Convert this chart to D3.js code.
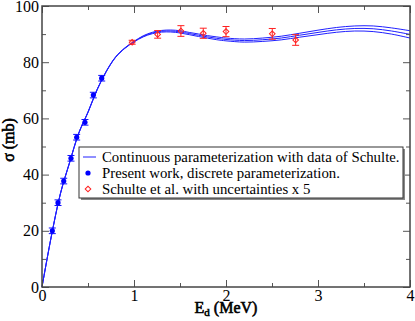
<!DOCTYPE html>
<html>
<head>
<meta charset="utf-8">
<title>Cross section</title>
<style>
body { margin: 0; background: #fff; }
.axis path { display: none; }
.axis line { stroke: #555; }
</style>
<script src="https://cdn.jsdelivr.net/npm/d3@7"></script>
</head>
<body>
<script>
// present work, discrete parameterization
var presentE = [0.112, 0.174, 0.236, 0.315, 0.377, 0.467, 0.558, 0.649];
var presentSigma = [20.0, 30.0, 37.7, 45.8, 53.3, 58.6, 68.3, 74.3];
var presentErr = [1, 1, 1, 1, 1, 1, 1, 1];

// Schulte et al. (uncertainties x 5)
var schulteE = [0.98, 1.257, 1.51, 1.753, 2.0, 2.503, 2.757];
var schulteSigma = [87.1, 89.9, 91.1, 90.3, 90.9, 90.1, 87.9];
var schulteErr = [0.7, 1.35, 1.9, 1.8, 1.8, 1.9, 1.9];

// continuous parameterization (central + band)
var fitE = [0, 0.1, 0.2, 0.3, 0.4, 0.5, 0.6, 0.7, 0.8, 0.9, 1.0, 1.1, 1.2, 1.3, 1.4, 1.5,
            1.6, 1.7, 1.8, 1.9, 2.0, 2.2, 2.4, 2.6, 2.8, 3.0, 3.2, 3.4, 3.6, 3.8, 4.0];
var fitMid = [0, 17.8, 33.2, 44.3, 54.8, 62.2, 70.3, 76.8, 81.8, 85.0, 87.3, 89.2, 90.4, 91.0, 91.1, 90.8,
              90.2, 89.6, 89.0, 88.5, 88.1, 87.7, 88.0, 88.6, 89.6, 90.6, 91.5, 92.0, 91.9, 91.1, 89.9];
var fitLow = [0, 17.7, 33.1, 44.2, 54.7, 62.1, 70.2, 76.7, 81.7, 84.9, 87.2, 89.0, 90.15, 90.7, 90.75, 90.4,
              89.8, 89.15, 88.55, 88.0, 87.6, 87.15, 87.4, 87.95, 88.9, 89.8, 90.65, 91.1, 90.9, 90.0, 88.6];
var fitHigh = [0, 17.9, 33.3, 44.4, 54.9, 62.3, 70.4, 76.9, 81.9, 85.1, 87.4, 89.4, 90.65, 91.3, 91.45, 91.2,
               90.6, 90.05, 89.45, 89.0, 88.6, 88.25, 88.6, 89.25, 90.3, 91.4, 92.35, 92.9, 92.9, 92.2, 91.2];

var xMajor = [0, 1, 2, 3, 4];
var xMinor = [0.5, 1.5, 2.5, 3.5];
var yMajor = [0, 20, 40, 60, 80, 100];
var yMinor = [10, 30, 50, 70, 90];

var legendLabels = [
    "Continuous parameterization with data of Schulte.",
    "Present work, discrete parameterization.",
    "Schulte et al. with uncertainties x 5"
];

var serif = "'Liberation Serif'";

var width = 415, height = 321;
var margin = {top: 6, right: 5, bottom: 34, left: 42};
var w = width - margin.left - margin.right,
    h = height - margin.top - margin.bottom;

var svg = d3.select("body").append("svg")
    .attr("width", width)
    .attr("height", height)
    .style("display", "block");

var g = svg.append("g")
    .attr("transform", "translate(" + margin.left + "," + margin.top + ")");

var x = d3.scaleLinear().domain([0, 4]).range([0, w]);
var y = d3.scaleLinear().domain([0, 100]).range([h, 0]);

// curves
var line = d3.line()
    .x(function(d) { return x(d[0]); })
    .y(function(d) { return y(d[1]); })
    .curve(d3.curveCatmullRom);

[fitLow, fitMid, fitHigh].forEach(function(s) {
    g.append("path")
        .datum(fitE.map(function(e, i) { return [e, s[i]]; }))
        .attr("fill", "none")
        .attr("stroke", "#2020ff")
        .attr("stroke-width", 1)
        .attr("d", line);
});

// error bars
function errorBars(es, vs, errs, color) {
    var eb = g.append("g").attr("stroke", color).attr("stroke-width", 1);
    es.forEach(function(e, i) {
        var cx = x(e), y0 = y(vs[i] - errs[i]), y1 = y(vs[i] + errs[i]);
        eb.append("line").attr("x1", cx).attr("x2", cx).attr("y1", y0).attr("y2", y1);
        eb.append("line").attr("x1", cx - 3.5).attr("x2", cx + 3.5).attr("y1", y0).attr("y2", y0);
        eb.append("line").attr("x1", cx - 3.5).attr("x2", cx + 3.5).attr("y1", y1).attr("y2", y1);
    });
}

errorBars(presentE, presentSigma, presentErr, "#1010ff");
errorBars(schulteE, schulteSigma, schulteErr, "#ff2020");

var diamond = d3.symbol().type(d3.symbolSquare).size(16);

g.selectAll(".present")
    .data(presentE)
    .enter().append("circle")
    .attr("class", "present")
    .attr("cx", function(d) { return x(d); })
    .attr("cy", function(d, i) { return y(presentSigma[i]); })
    .attr("r", 2.6)
    .attr("fill", "#0000ff");

g.selectAll(".schulte")
    .data(schulteE)
    .enter().append("path")
    .attr("class", "schulte")
    .attr("d", diamond)
    .attr("transform", function(d, i) {
        return "translate(" + x(d) + "," + y(schulteSigma[i]) + ") rotate(45)";
    })
    .attr("fill", "none")
    .attr("stroke", "#ff2020")
    .attr("stroke-width", 1);

// axes: inward ticks on all sides
function styleAxis(sel) {
    sel.selectAll("text")
        .attr("fill", "#000")
        .style("font-family", serif)
        .style("font-size", "16px");
}

g.append("g").attr("class", "axis")
    .attr("transform", "translate(0," + h + ")")
    .call(d3.axisBottom(x).tickValues(xMajor).tickSize(-7).tickPadding(3).tickFormat(d3.format("d")))
    .call(styleAxis);
g.append("g").attr("class", "axis")
    .attr("transform", "translate(0," + h + ")")
    .call(d3.axisBottom(x).tickValues(xMinor).tickSize(-4).tickFormat(""));
g.append("g").attr("class", "axis")
    .call(d3.axisTop(x).tickValues(xMajor).tickSize(-7).tickFormat(""));
g.append("g").attr("class", "axis")
    .call(d3.axisTop(x).tickValues(xMinor).tickSize(-4).tickFormat(""));

g.append("g").attr("class", "axis")
    .call(d3.axisLeft(y).tickValues(yMajor).tickSize(-7).tickPadding(3).tickFormat(d3.format("d")))
    .call(styleAxis);
g.append("g").attr("class", "axis")
    .call(d3.axisLeft(y).tickValues(yMinor).tickSize(-4).tickFormat(""));
g.append("g").attr("class", "axis")
    .attr("transform", "translate(" + w + ",0)")
    .call(d3.axisRight(y).tickValues(yMajor).tickSize(-7).tickFormat(""));
g.append("g").attr("class", "axis")
    .attr("transform", "translate(" + w + ",0)")
    .call(d3.axisRight(y).tickValues(yMinor).tickSize(-4).tickFormat(""));

g.append("rect")
    .attr("width", w).attr("height", h)
    .attr("fill", "none")
    .attr("stroke", "#444")
    .attr("stroke-width", 1.5);

// axis titles (bold serif imitated with a thin stroke)
svg.append("text")
    .attr("transform", "translate(14,140) rotate(-90)")
    .attr("text-anchor", "middle")
    .attr("stroke", "#000")
    .attr("stroke-width", 0.6)
    .style("font-family", serif)
    .style("font-size", "16px")
    .text("\u03c3 (mb)");

var xt = svg.append("text")
    .attr("x", margin.left + w / 2)
    .attr("y", 313)
    .attr("text-anchor", "middle")
    .attr("stroke", "#000")
    .attr("stroke-width", 0.6)
    .style("font-family", serif)
    .style("font-size", "16px");
xt.append("tspan").text("E");
xt.append("tspan").style("font-size", "11px").attr("dy", 3).text("d");
xt.append("tspan").attr("dy", -3).text(" (MeV)");

// legend
var lg = svg.append("g").attr("transform", "translate(79,147)");
var lw = 324, lh = 51;
lg.append("rect").attr("x", 2).attr("y", 2).attr("width", lw).attr("height", lh)
    .attr("fill", "#888");
lg.append("rect").attr("width", lw).attr("height", lh)
    .attr("fill", "#fff").attr("stroke", "#333").attr("stroke-width", 1);

var rowY = [10, 26, 42];
lg.append("line").attr("x1", 4).attr("x2", 17).attr("y1", rowY[0]).attr("y2", rowY[0])
    .attr("stroke", "#2020ff");
lg.append("circle").attr("cx", 9).attr("cy", rowY[1]).attr("r", 2.6).attr("fill", "#0000ff");
lg.append("path").attr("d", diamond)
    .attr("transform", "translate(9," + rowY[2] + ") rotate(45)")
    .attr("fill", "none").attr("stroke", "#ff2020");

lg.selectAll(".lab")
    .data(legendLabels)
    .enter().append("text")
    .attr("class", "lab")
    .attr("x", 23)
    .attr("y", function(d, i) { return rowY[i]; })
    .attr("dy", "0.35em")
    .style("font-family", serif)
    .style("font-size", "14.8px")
    .text(function(d) { return d; });
</script>
</body>
</html>
